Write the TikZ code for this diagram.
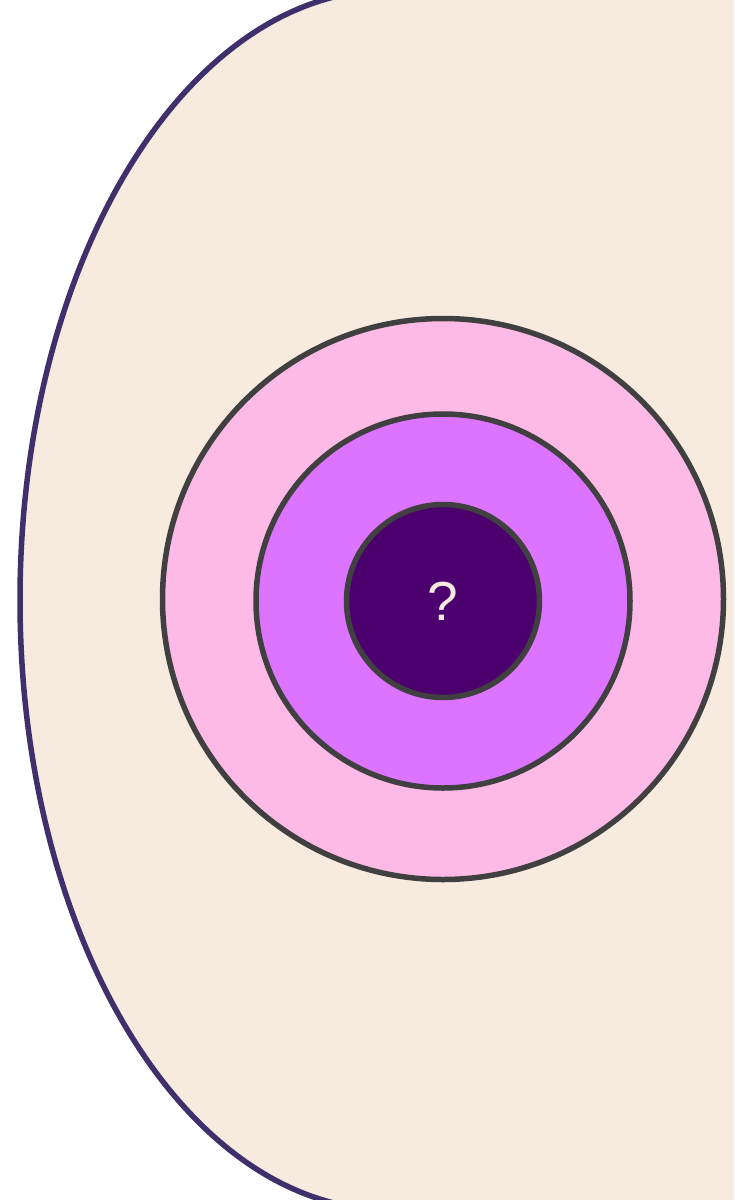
\documentclass[tikz,border=0pt]{standalone}
\usepackage{fontspec}
\setmainfont{Liberation Sans}
\definecolor{cream}{HTML}{F7EBDF}
\definecolor{outl}{HTML}{3F2F6B}
\definecolor{ringline}{HTML}{404040}
\definecolor{pinkc}{HTML}{FDBAE6}
\definecolor{violetc}{HTML}{DD74FF}
\definecolor{darkp}{HTML}{4B006E}
\begin{document}
\begin{tikzpicture}[x=1pt,y=-1pt,
  ring/.style={circle, draw=ringline, line width=5.5pt, inner sep=0pt, outer sep=0pt}]
\useasboundingbox (0,0) rectangle (734,1200);
\clip (0,0) rectangle (734,1200);
\fill[white] (0,0) rectangle (734,1200);
\draw[line width=5.5pt, draw=outl, fill=cream] (390,-10) arc[start angle=90, end angle=270, x radius=370, y radius=-610] -- (800,1210) -- (800,-10) -- cycle;
\node[ring, fill=pinkc, minimum size=561pt] (outer) at (443,599) {};
\node[ring, fill=violetc, minimum size=374pt] (middle) at (443,601) {};
\node[ring, fill=darkp, minimum size=193pt, text=cream, font=\fontsize{55}{60}\selectfont] (inner) at (443,601) {?};
\end{tikzpicture}
\end{document}
